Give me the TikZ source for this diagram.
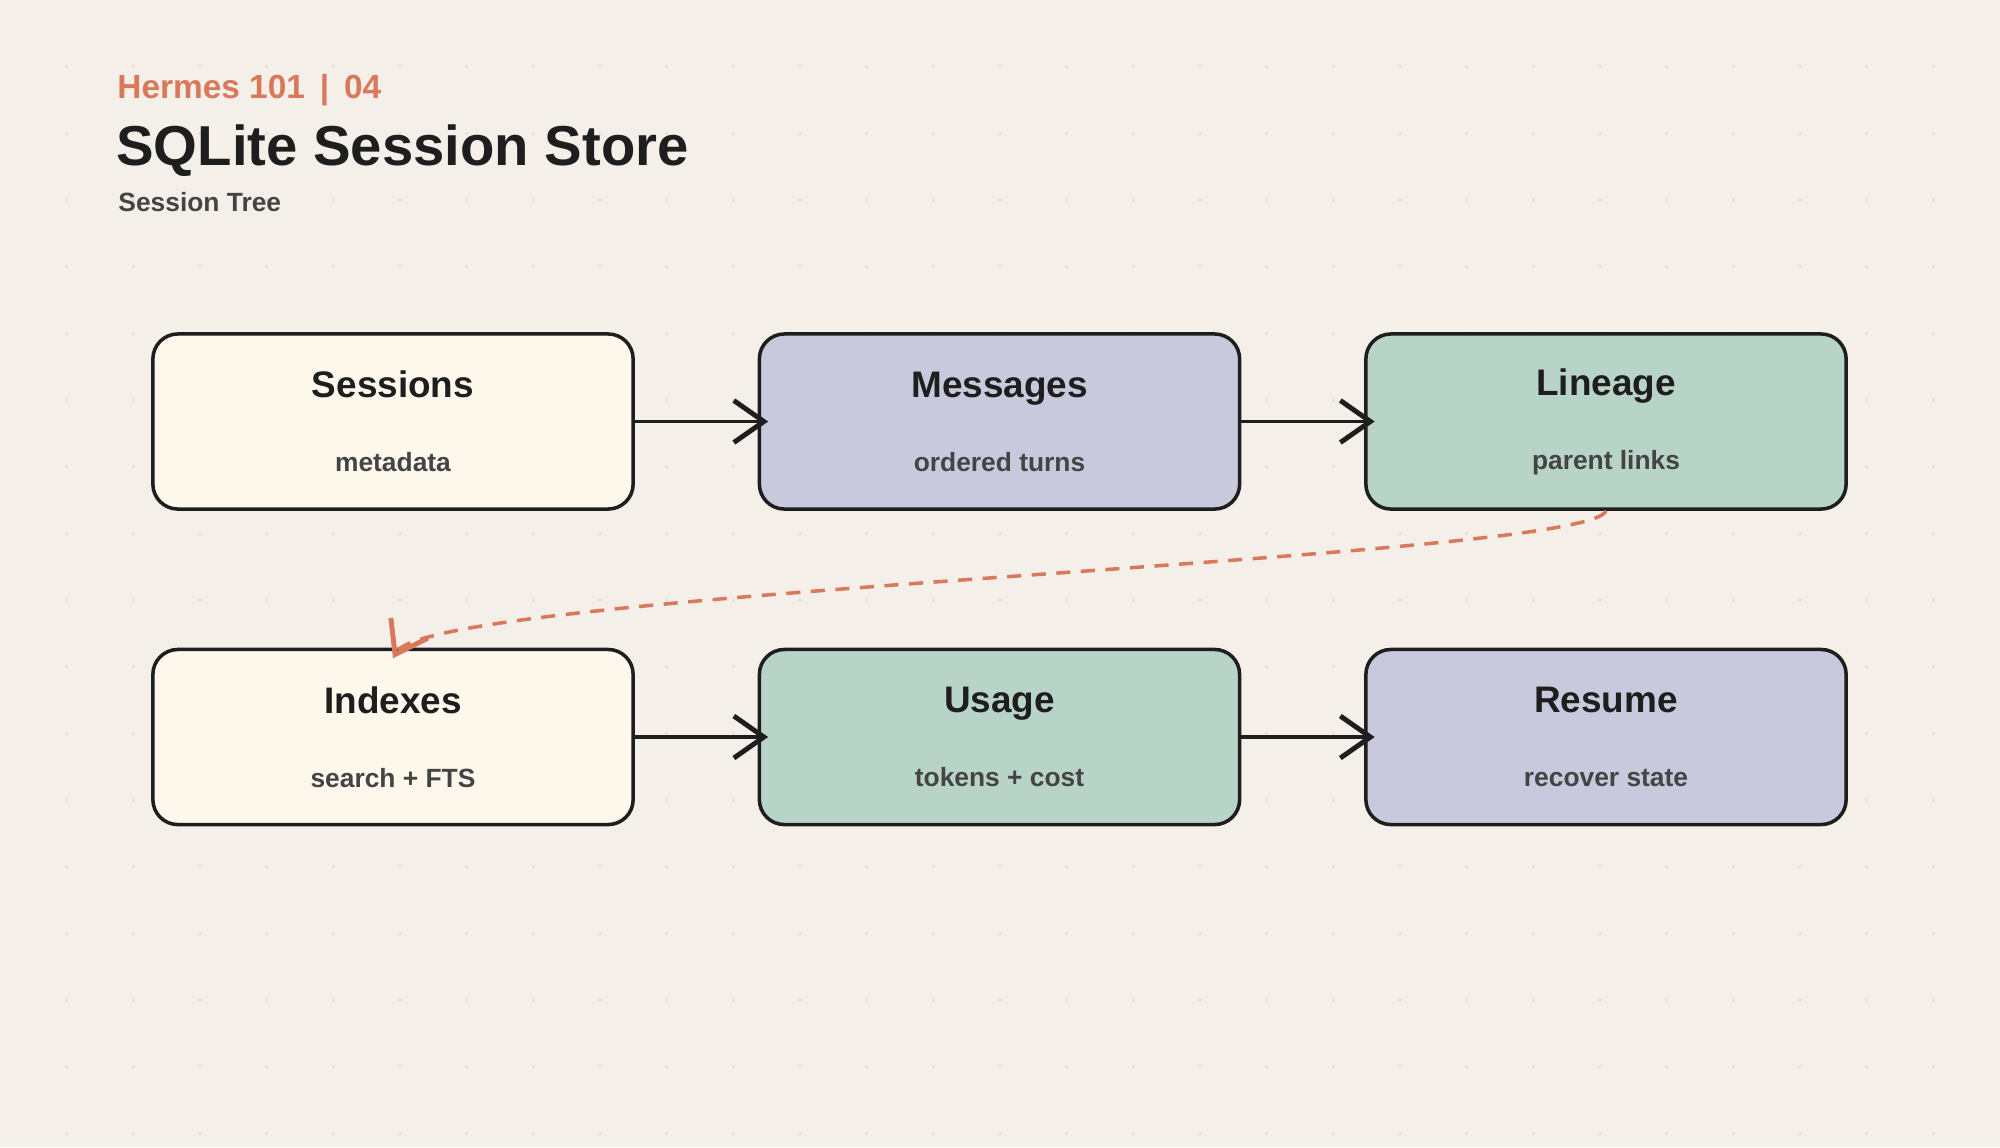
\documentclass[tikz,border=0pt]{standalone}
\usepackage{fontspec}
\setmainfont{Liberation Sans}
\usetikzlibrary{arrows.meta}
\definecolor{paper}{HTML}{F4F0E9}
\definecolor{dotc}{HTML}{E2DCD1}
\definecolor{ink}{HTML}{1E1E1E}
\definecolor{inksoft}{HTML}{444444}
\definecolor{accent}{HTML}{D9785A}
\definecolor{cream}{HTML}{FDF7EC}
\definecolor{lilac}{HTML}{C8C9DD}
\definecolor{sage}{HTML}{B8D4C8}

\tikzset{
  stage/.style={draw=ink, line width=1pt, rounded corners=0.25cm,
    minimum width=4.8cm, minimum height=1.75cm, inner sep=0pt},
  flow/.style={draw=ink, line width=1pt,
    -{Straight Barb[length=0.3cm, width=0.42cm, line width=1.4pt]}},
  link/.style={draw=accent, line width=1pt, dash pattern=on 4pt off 3pt,
    -{Straight Barb[length=0.3cm, width=0.42cm, line width=1.4pt]}}
}
\newcommand{\stagetext}[2]{{\fontsize{10.5}{12}\bfseries\color{ink}#1}\\[9pt]{\fontsize{7.5}{9}\bfseries\color{inksoft}#2}}

\begin{document}
\begin{tikzpicture}[x=0.01cm, y=-0.01cm]
  \useasboundingbox[fill=paper] (0,0) rectangle (2000,1147);
  % dot grid
  \foreach \i in {1,...,29}
    \foreach \j in {1,...,17}
      \fill[dotc] (\i*66.67,\j*66.67) circle (1.6);

  % heading
  \node[anchor=base west, text=accent, font=\fontsize{9.5}{11}\bfseries] (kicker) at (105,98) {Hermes 101 \,|\, 04};
  \node[anchor=base west, text=ink, font=\fontsize{16}{19}\bfseries] (title) at (104,165) {SQLite Session Store};
  \node[anchor=base west, text=inksoft, font=\fontsize{7.5}{9}\bfseries] (subtitle) at (106,211) {Session Tree};

  % stages
  \node[stage, fill=cream, align=center] (sessions) at (393,421.5) {\stagetext{Sessions}{metadata}};
  \node[stage, fill=lilac, align=center] (messages) at (999.5,421.5) {\stagetext{Messages}{ordered turns}};
  \node[stage, fill=sage, align=center] (lineage) at (1606,421.5) {\stagetext{Lineage}{parent links}};
  \node[stage, fill=cream, align=center] (indexes) at (393,737) {\stagetext{Indexes}{search + FTS}};
  \node[stage, fill=sage, align=center] (usage) at (999.5,737) {\stagetext{Usage}{tokens + cost}};
  \node[stage, fill=lilac, align=center] (resume) at (1606,737) {\stagetext{Resume}{recover state}};

  % connectors
  \draw[flow] (sessions.east) -- ([xshift=3]messages.west);
  \draw[flow] (messages.east) -- ([xshift=3]lineage.west);
  \draw[flow] (indexes.east) -- ([xshift=3]usage.west);
  \draw[flow] (usage.east) -- ([xshift=3]resume.west);
  \draw[link] (lineage.south) .. controls (1590,560) and (430,590) .. ([yshift=-3]indexes.north);
\end{tikzpicture}
\end{document}
